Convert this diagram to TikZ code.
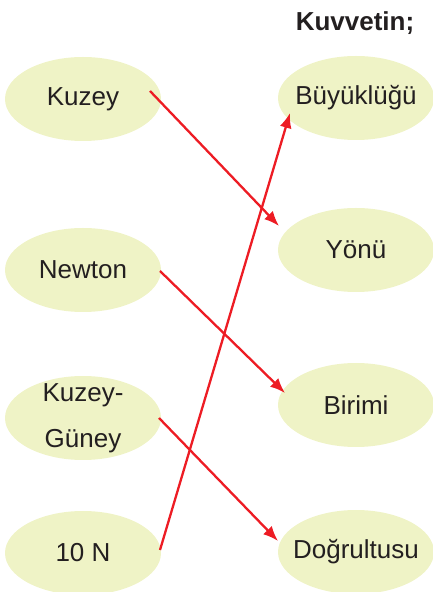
\documentclass[tikz,border=0pt]{standalone}
\usepackage{fontspec}
\setmainfont{Liberation Sans}
\usepackage{xcolor}
\usepackage{tikz}
\usetikzlibrary{arrows.meta,calc,shapes.geometric}
\definecolor{EslesmeFill}{HTML}{EFF3C6}
\definecolor{EslesmeRed}{HTML}{ED1C24}
\definecolor{EslesmeText}{HTML}{231F20}
\tikzset{
  eslesme kutu/.style={
    ellipse,
    fill=EslesmeFill,
    minimum width=156pt,
    minimum height=84pt,
    inner xsep=-25pt,
    inner ysep=-15pt,
    text=EslesmeText,
    font=\fontsize{26}{46}\selectfont,
    align=center
  },
  eslesme ok/.style={-{Latex[length=15pt,width=12pt]}, line width=2.3pt, EslesmeRed}
}

\begin{document}
\begin{tikzpicture}[x=1pt, y=1pt]
  \useasboundingbox (0,0) rectangle (433,592);

  \node[font=\bfseries\fontsize{26}{30}\selectfont, text=EslesmeText] (baslik) at (355,569)
    {Kuvvetin;};

  \node[eslesme kutu] (kuzey) at (83,493) {Kuzey};
  \node[eslesme kutu] (newton) at (83,322) {Newton};
  \node[eslesme kutu] (kuzeyguney) at (83,174) {Kuzey-\\Güney};
  \node[eslesme kutu] (onn) at (83,39) {10 N};

  \node[eslesme kutu] (buyukluk) at (356,494) {Büyüklüğü};
  \node[eslesme kutu] (yon) at (356,342) {Yönü};
  \node[eslesme kutu] (birim) at (356,187) {Birimi};
  \node[eslesme kutu] (dogrultu) at (356,40) {Doğrultusu};

  \draw[eslesme ok] ($(kuzey.center)+(67,8)$) -- ($(yon.center)+(-77,24)$);
  \draw[eslesme ok] ($(newton.center)+(77,-1)$) -- ($(birim.center)+(-71,12)$);
  \draw[eslesme ok] ($(kuzeyguney.center)+(76,0)$) -- ($(dogrultu.center)+(-78,11)$);
  \draw[eslesme ok] ($(onn.center)+(77,3)$) -- ($(buyukluk.center)+(-66,-15)$);
\end{tikzpicture}
\end{document}
